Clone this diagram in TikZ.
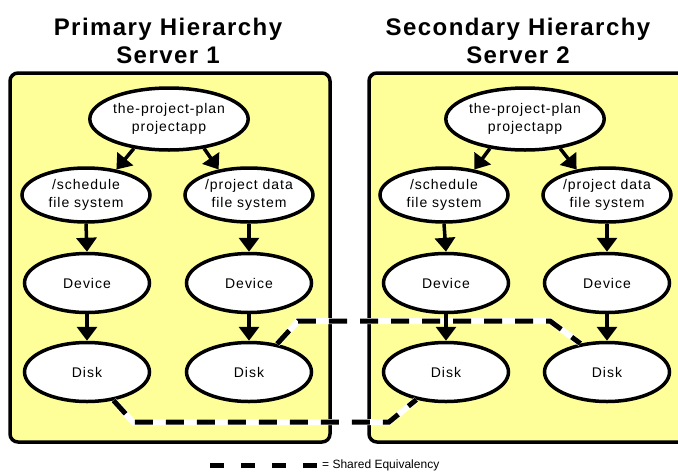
\documentclass[tikz,border=0pt]{standalone}
\usepackage{fontspec}
\setmainfont{Liberation Sans}
\newfontfamily\titlefont[LetterSpace=6]{Liberation Sans}
\newfontfamily\nodefont[LetterSpace=7]{Liberation Sans}
\newfontfamily\legfont{Liberation Sans}
\usetikzlibrary{shapes.geometric,arrows.meta}
\definecolor{boxyellow}{HTML}{FFFF99}
\tikzset{
  hbox/.style={draw=black, line width=3.5pt, fill=boxyellow, rounded corners=8pt},
  oval/.style={ellipse, draw=black, line width=3.5pt, fill=white, inner sep=0pt,
    align=center, font=\nodefont\fontsize{14}{18}\selectfont},
  fsoval/.style={oval, minimum width=128pt, minimum height=54pt},
  devoval/.style={oval, minimum width=125pt, minimum height=59pt},
  topoval/.style={oval, minimum width=135pt, minimum height=62pt},
  arr/.style={line width=3.5pt, -{Triangle[width=20pt,length=14pt]}},
  titletext/.style={font=\titlefont\bfseries\fontsize{24}{28}\selectfont, inner sep=0pt},
  sharewhite/.style={white, line width=6pt},
  shareblack/.style={black, line width=5pt, dash pattern=on 18pt off 13pt},
}
\begin{document}
\begin{tikzpicture}[x=1pt, y=-1pt]
\clip (0,0) rectangle (678,472);
\fill[white] (0,0) rectangle (678,472);

% boxes
\draw[hbox] (10,73) rectangle (330,442);
\draw[hbox] (369,73) rectangle (700,442);

% titles
\node[titletext, anchor=base] (tL1) at (168,35) {Primary Hierarchy};
\node[titletext, anchor=base] (tL2) at (168,63) {Server 1};
\node[titletext, anchor=base] (tR1) at (518,35) {Secondary Hierarchy};
\node[titletext, anchor=base] (tR2) at (518,63) {Server 2};

% left hierarchy nodes
\node[topoval] (Ltop) at (169,119) {the-project-plan\\projectapp};
\node[fsoval] (Lsch) at (86,195) {/schedule\\file system};
\node[fsoval] (Lpd) at (249,195) {/project data\\file system};
\node[devoval] (Ldev1) at (87,283) {Device};
\node[devoval] (Ldev2) at (249,283) {Device};
\node[devoval] (Ldisk1) at (87,372) {Disk};
\node[devoval] (Ldisk2) at (249,372) {Disk};

% right hierarchy nodes
\node[topoval] (Rtop) at (525,119) {the-project-plan\\projectapp};
\node[fsoval] (Rsch) at (444,195) {/schedule\\file system};
\node[fsoval] (Rpd) at (607,195) {/project data\\file system};
\node[devoval] (Rdev1) at (446,283) {Device};
\node[devoval] (Rdev2) at (607,283) {Device};
\node[devoval] (Rdisk1) at (446,372) {Disk};
\node[devoval] (Rdisk2) at (607,372) {Disk};

% shared equivalency lines
\coordinate (a1) at (133,422);
\coordinate (a2) at (389,422);
\coordinate (b1) at (298,321);
\coordinate (b2) at (550,321);
\draw[sharewhite] (Ldisk1.-47) -- (a1) -- (a2) -- (Rdisk1.-137);
\draw[shareblack] (Ldisk1.-47) -- (a1) -- (a2) -- (Rdisk1.-137);
\draw[sharewhite] (Ldisk2.45) -- (b1) -- (b2) -- (Rdisk2.133);
\draw[shareblack] (Ldisk2.45) -- (b1) -- (b2) -- (Rdisk2.133);

% arrows
\draw[arr] (Ltop.-140) -- (Lsch.40);
\draw[arr] (Ltop.-40) -- (Lpd.140);
\draw[arr] (Lsch.south) -- (Ldev1.north);
\draw[arr] (Lpd.south) -- (Ldev2.north);
\draw[arr] (Ldev1.south) -- (Ldisk1.north);
\draw[arr] (Ldev2.south) -- (Ldisk2.north);
\draw[arr] (Rtop.-140) -- (Rsch.40);
\draw[arr] (Rtop.-40) -- (Rpd.140);
\draw[arr] (Rsch.south) -- (Rdev1.north);
\draw[arr] (Rpd.south) -- (Rdev2.north);
\draw[arr] (Rdev1.south) -- (Rdisk1.north);
\draw[arr] (Rdev2.south) -- (Rdisk2.north);

% legend
\coordinate (lg1) at (210,465);
\coordinate (lg2) at (320,465);
\draw[black, line width=5pt, dash pattern=on 14pt off 17pt] (lg1) -- (lg2);
\node[anchor=west, inner sep=0pt, font=\legfont\fontsize{12}{14}\selectfont] (leg) at (322,465) {= Shared Equivalency};
\end{tikzpicture}
\end{document}
